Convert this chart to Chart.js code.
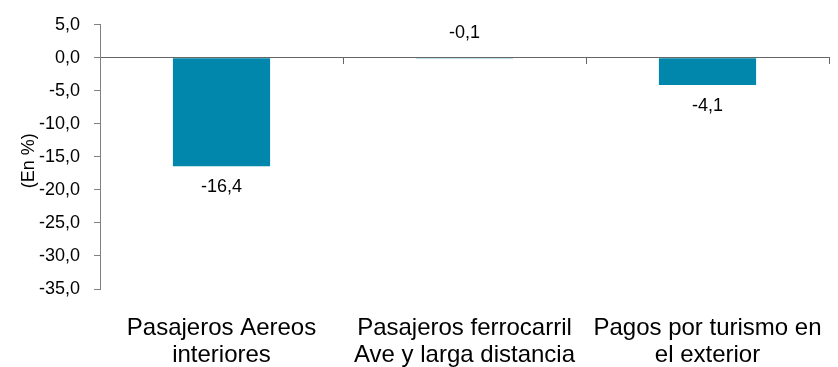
<!DOCTYPE html>
<html>
<head>
<meta charset="utf-8">
<script src="https://cdn.jsdelivr.net/npm/chart.js@4.4.1/dist/chart.umd.min.js"></script>
<style>
  body { margin: 0; background: #fff; }
</style>
</head>
<body>
<canvas id="chart" width="838" height="367"></canvas>
<script>
const categories = [
    ["Pasajeros Aereos", "interiores"],
    ["Pasajeros ferrocarril", "Ave y larga distancia"],
    ["Pagos por turismo en", "el exterior"]
];
const values = [-16.4, -0.1, -4.1];
const yTitle = "(En %)";
const yMin = -35, yMax = 5, yStep = 5;

const fmt = v => v.toFixed(1).replace(".", ",");
const FONT = "'Liberation Sans', Arial, sans-serif";

// value labels under each bar (above the zero line when the bar is tiny)
const valueLabels = {
    id: "valueLabels",
    afterDatasetsDraw(chart) {
        const ctx = chart.ctx;
        const meta = chart.getDatasetMeta(0);
        ctx.save();
        ctx.font = "18px " + FONT;
        ctx.fillStyle = "#000";
        ctx.textAlign = "center";
        ctx.textBaseline = "middle";
        meta.data.forEach((bar, i) => {
            const h = Math.abs(bar.y - bar.base);
            const y = h < 10 ? bar.base - 25 : bar.y + 21;
            ctx.fillText(fmt(values[i]), bar.x, y);
        });
        ctx.restore();
    }
};

// y axis title sits over the tick labels, as in the original
const axisTitle = {
    id: "axisTitle",
    afterDraw(chart) {
        const ctx = chart.ctx;
        const y = chart.scales.y;
        ctx.save();
        ctx.font = "18px " + FONT;
        ctx.fillStyle = "#000";
        ctx.textAlign = "center";
        ctx.textBaseline = "middle";
        ctx.translate(29, y.getPixelForValue(-15.6));
        ctx.rotate(-Math.PI / 2);
        ctx.fillText(yTitle, 0, 0);
        ctx.restore();
    }
};

new Chart(document.getElementById("chart"), {
    type: "bar",
    data: {
        labels: categories,
        datasets: [{
            data: values,
            backgroundColor: "#0087AB",
            borderWidth: 0,
            barPercentage: 0.4,
            categoryPercentage: 1
        }]
    },
    options: {
        responsive: false,
        animation: false,
        devicePixelRatio: 1,
        layout: { padding: { top: 22, right: 9, left: 0, bottom: 0 } },
        plugins: { legend: { display: false }, tooltip: { enabled: false } },
        scales: {
            x: {
                position: "bottom",
                grid: { display: false, drawTicks: false },
                border: { display: false },
                ticks: {
                    color: "#000",
                    font: { family: FONT, size: 24, lineHeight: 1.125 },
                    padding: 26,
                    maxRotation: 0,
                    autoSkip: false
                },
                afterFit: s => {
                    s.height = 78;
                    s.paddingLeft = 0;
                    s.paddingRight = 0;
                }
            },
            xZero: {
                type: "category",
                axis: "x",
                position: { y: 0 },
                offset: true,
                grid: { offset: true, drawOnChartArea: false, tickLength: 6, color: "#666" },
                border: { color: "#666", width: 1 },
                ticks: { display: false }
            },
            y: {
                min: yMin,
                max: yMax,
                grid: { drawOnChartArea: false, tickLength: 6, color: "#808080" },
                border: { color: "#808080", width: 1 },
                ticks: {
                    stepSize: yStep,
                    color: "#000",
                    font: { family: FONT, size: 18 },
                    padding: 14,
                    callback: v => fmt(v)
                },
                afterFit: s => { s.width = 100; }
            }
        }
    },
    plugins: [valueLabels, axisTitle]
});
</script>
</body>
</html>
